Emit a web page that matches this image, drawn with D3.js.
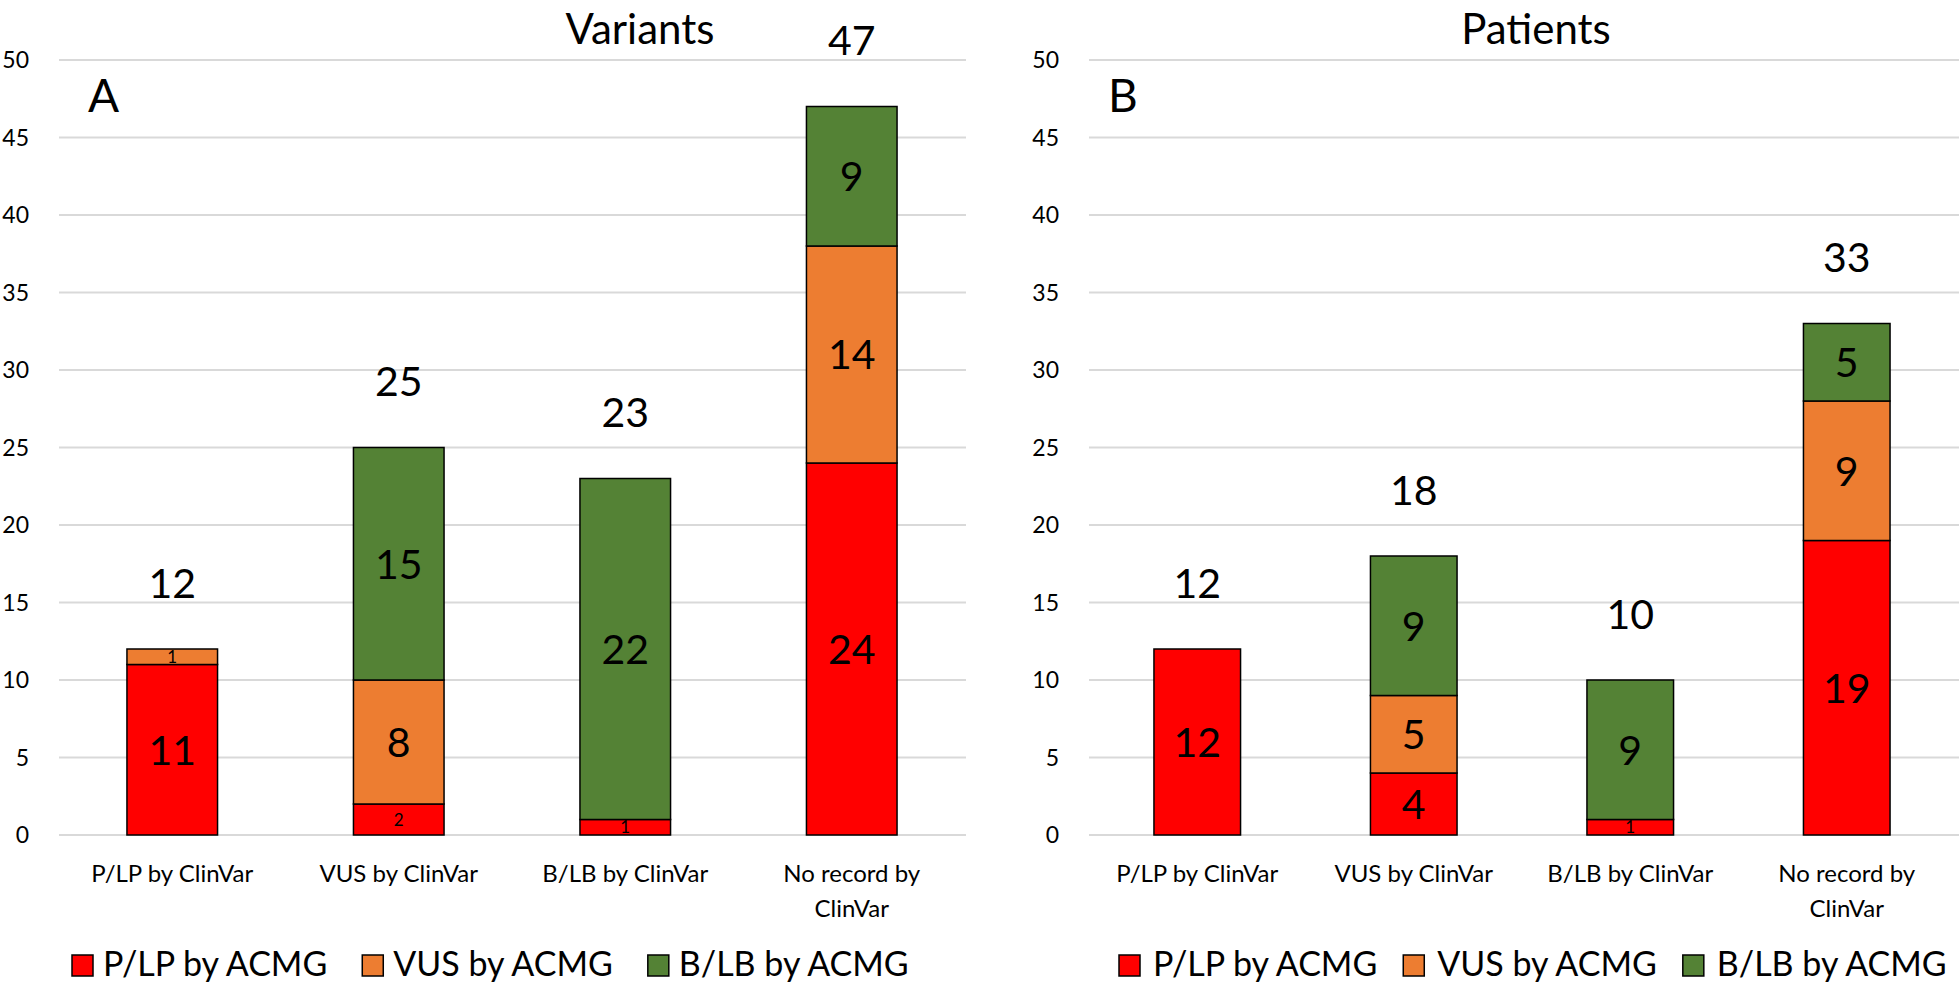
<!DOCTYPE html>
<html>
<head>
<meta charset="utf-8">
<script src="https://cdn.jsdelivr.net/npm/d3@7"></script>
<style>
  html, body { margin: 0; padding: 0; background: #fff; }
  svg { display: block; }
  text { font-family: Lato, "Open Sans", "Noto Sans", sans-serif; fill: #000; }
</style>
</head>
<body>
<svg id="chart" width="1959" height="984"></svg>
<script>
// ---- data ----
const categories = ["P/LP by ClinVar", "VUS by ClinVar", "B/LB by ClinVar", "No record by ClinVar"];
const seriesNames = ["P/LP by ACMG", "VUS by ACMG", "B/LB by ACMG"];
const seriesColors = ["#FF0000", "#ED7D31", "#548235"];
const yTicks = [0, 5, 10, 15, 20, 25, 30, 35, 40, 45, 50];

const variantsPLP = [11, 2, 1, 24];
const variantsVUS = [1, 8, 0, 14];
const variantsBLB = [0, 15, 22, 9];

const patientsPLP = [12, 4, 1, 19];
const patientsVUS = [0, 5, 0, 9];
const patientsBLB = [0, 9, 9, 5];

const svg = d3.select("#chart");

const y = d3.scaleLinear().domain([0, 50]).range([835, 60]);

function drawPanel(cfg) {
  const g = svg.append("g");
  const x = d3.scaleBand().domain(categories).range(cfg.xRange).paddingInner(0.6).paddingOuter(0.3);

  // gridlines
  g.append("g").selectAll("line").data(yTicks).join("line")
    .attr("x1", cfg.xRange[0]).attr("x2", cfg.gridEnd)
    .attr("y1", d => y(d)).attr("y2", d => y(d))
    .attr("stroke", "#D9D9D9").attr("stroke-width", 2);

  // y tick labels
  g.append("g").selectAll("text").data(yTicks).join("text")
    .attr("x", cfg.xRange[0] - 30).attr("y", d => y(d) + 8)
    .attr("text-anchor", "end").attr("font-size", 23)
    .text(d => d);

  // stacked data
  const rows = categories.map((c, i) => ({ cat: c, s0: cfg.data[0][i], s1: cfg.data[1][i], s2: cfg.data[2][i] }));
  const stack = d3.stack().keys(["s0", "s1", "s2"])(rows);

  stack.forEach((layer, li) => {
    const lg = g.append("g");
    layer.forEach(d => {
      const v = d[1] - d[0];
      if (v <= 0) return;
      lg.append("rect")
        .attr("x", x(d.data.cat)).attr("width", x.bandwidth())
        .attr("y", y(d[1])).attr("height", y(d[0]) - y(d[1]))
        .attr("fill", seriesColors[li]).attr("stroke", "#000").attr("stroke-width", 1.5);
    });
  });
  stack.forEach((layer, li) => {
    layer.forEach(d => {
      const v = d[1] - d[0];
      if (v <= 0) return;
      const h = y(d[0]) - y(d[1]);
      const fs = h < 40 ? 17 : 41;
      const cy = (y(d[0]) + y(d[1])) / 2;
      g.append("text")
        .attr("x", x(d.data.cat) + x.bandwidth() / 2)
        .attr("y", cy + fs * 0.36)
        .attr("text-anchor", "middle").attr("font-size", fs)
        .text(v);
    });
  });

  // totals
  rows.forEach(r => {
    const tot = r.s0 + r.s1 + r.s2;
    g.append("text")
      .attr("x", x(r.cat) + x.bandwidth() / 2)
      .attr("y", y(tot) - 66 + 41 * 0.36)
      .attr("text-anchor", "middle").attr("font-size", 41)
      .text(tot);
  });

  // category labels with wrapping
  categories.forEach(c => {
    const t = g.append("text")
      .attr("x", x(c) + x.bandwidth() / 2)
      .attr("y", 882).attr("text-anchor", "middle").attr("font-size", 24);
    const words = c.split(" ");
    let line = [];
    let tspan = t.append("tspan").attr("x", x(c) + x.bandwidth() / 2).attr("dy", 0);
    words.forEach(w => {
      line.push(w);
      tspan.text(line.join(" "));
      if (tspan.node().getComputedTextLength() > 185 && line.length > 1) {
        line.pop();
        tspan.text(line.join(" "));
        line = [w];
        tspan = t.append("tspan").attr("x", x(c) + x.bandwidth() / 2).attr("dy", 35).text(w);
      }
    });
  });

  // title
  svg.append("text").attr("x", cfg.titleX).attr("y", 44)
    .attr("text-anchor", "middle").attr("font-size", 42).text(cfg.title);
  // panel letter
  svg.append("text").attr("x", cfg.letterX).attr("y", 112)
    .attr("font-size", 46).text(cfg.letter);

  // legend
  const leg = svg.append("g");
  let lx = cfg.legendStart;
  seriesNames.forEach((n, i) => {
    leg.append("rect").attr("x", lx).attr("y", 955).attr("width", 21).attr("height", 21)
      .attr("fill", seriesColors[i]).attr("stroke", "#000").attr("stroke-width", 1.5);
    const t = leg.append("text").attr("x", lx + cfg.legendTextGap).attr("y", 976)
      .attr("font-size", 34).text(n);
    lx = lx + cfg.legendTextGap + t.node().getComputedTextLength() + cfg.legendItemGap;
  });
}

drawPanel({
  xRange: [59, 965], gridEnd: 966, title: "Variants", titleX: 640, letter: "A", letterX: 88,
  data: [variantsPLP, variantsVUS, variantsBLB], legendStart: 72, legendTextGap: 31, legendItemGap: 35
});
drawPanel({
  xRange: [1089, 1955], gridEnd: 1959, title: "Patients", titleX: 1536, letter: "B", letterX: 1108,
  data: [patientsPLP, patientsVUS, patientsBLB], legendStart: 1119, legendTextGap: 34, legendItemGap: 26
});
</script>
</body>
</html>
